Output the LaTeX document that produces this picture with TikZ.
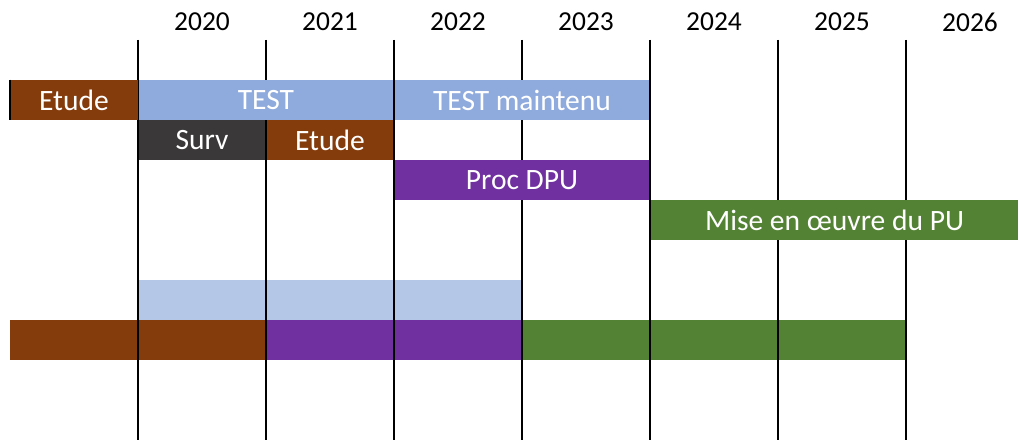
\documentclass[tikz,border=0pt]{standalone}
\usepackage{fontspec}
\setmainfont{Carlito}
\usetikzlibrary{positioning}

\definecolor{etudebrown}{HTML}{843C0C}
\definecolor{testblue}{HTML}{8FAADC}
\definecolor{testpale}{HTML}{B4C7E7}
\definecolor{survgray}{HTML}{3A3838}
\definecolor{procpurple}{HTML}{7030A0}
\definecolor{puegreen}{HTML}{548235}

\begin{document}
\begin{tikzpicture}[
  x=0.025cm, y=0.025cm,
  bar/.style={rectangle, inner sep=0pt, minimum height=40*0.025cm, text=white,
    font=\fontsize{21}{24}\selectfont},
  year/.style={inner sep=0pt, text=black, font=\fontsize{19.5}{22}\selectfont},
  yearline/.style={line width=1.1pt, draw=black}
]
\useasboundingbox (0,0) rectangle (1018,440);

% lower rows first, so the year lines run over them
\node[bar, fill=testpale, minimum width=384*0.025cm] (paleA) at (330,140) {};
\node[bar, fill=etudebrown, minimum width=256*0.025cm] (lowEtude) at (138,100) {};
\node[bar, fill=procpurple, minimum width=256*0.025cm] (lowProc) at (394,100) {};
\node[bar, fill=puegreen, minimum width=384*0.025cm] (lowMise) at (714,100) {};

% year labels and lines
\foreach \yr [count=\i from 0] in {2020,2021,2022,2023,2024,2025,2026} {
  \node[year] (y\yr) at (202+128*\i,418) {\yr};
  \coordinate (t\yr) at (138+128*\i,400);
  \coordinate (b\yr) at (138+128*\i,0);
}
\foreach \yr in {2020,2021,2022,2023,2024,2025,2026}
  \draw[yearline] (t\yr) -- (b\yr);

% upper rows
\node[bar, fill=etudebrown, minimum width=127*0.025cm] (etudeA) at (74,340) {Etude};
\draw[line width=1.1pt] (etudeA.north west) -- (etudeA.south west);
\node[bar, fill=testblue, minimum width=254.5*0.025cm] (test) at (266,340) {TEST};
\node[bar, fill=testblue, minimum width=254.5*0.025cm] (testm) at (522,340) {TEST maintenu};

\node[bar, fill=survgray, minimum width=126.5*0.025cm] (surv) at (202,300) {Surv};
\node[bar, fill=etudebrown, minimum width=126.5*0.025cm] (etudeB) at (330,300) {Etude};

\node[bar, fill=procpurple, minimum width=254.5*0.025cm] (proc) at (522,260) {Proc DPU};

\node[bar, fill=puegreen, minimum width=367*0.025cm] (mise) at (834.5,220) {Mise en œuvre du PU};

\end{tikzpicture}
\end{document}
